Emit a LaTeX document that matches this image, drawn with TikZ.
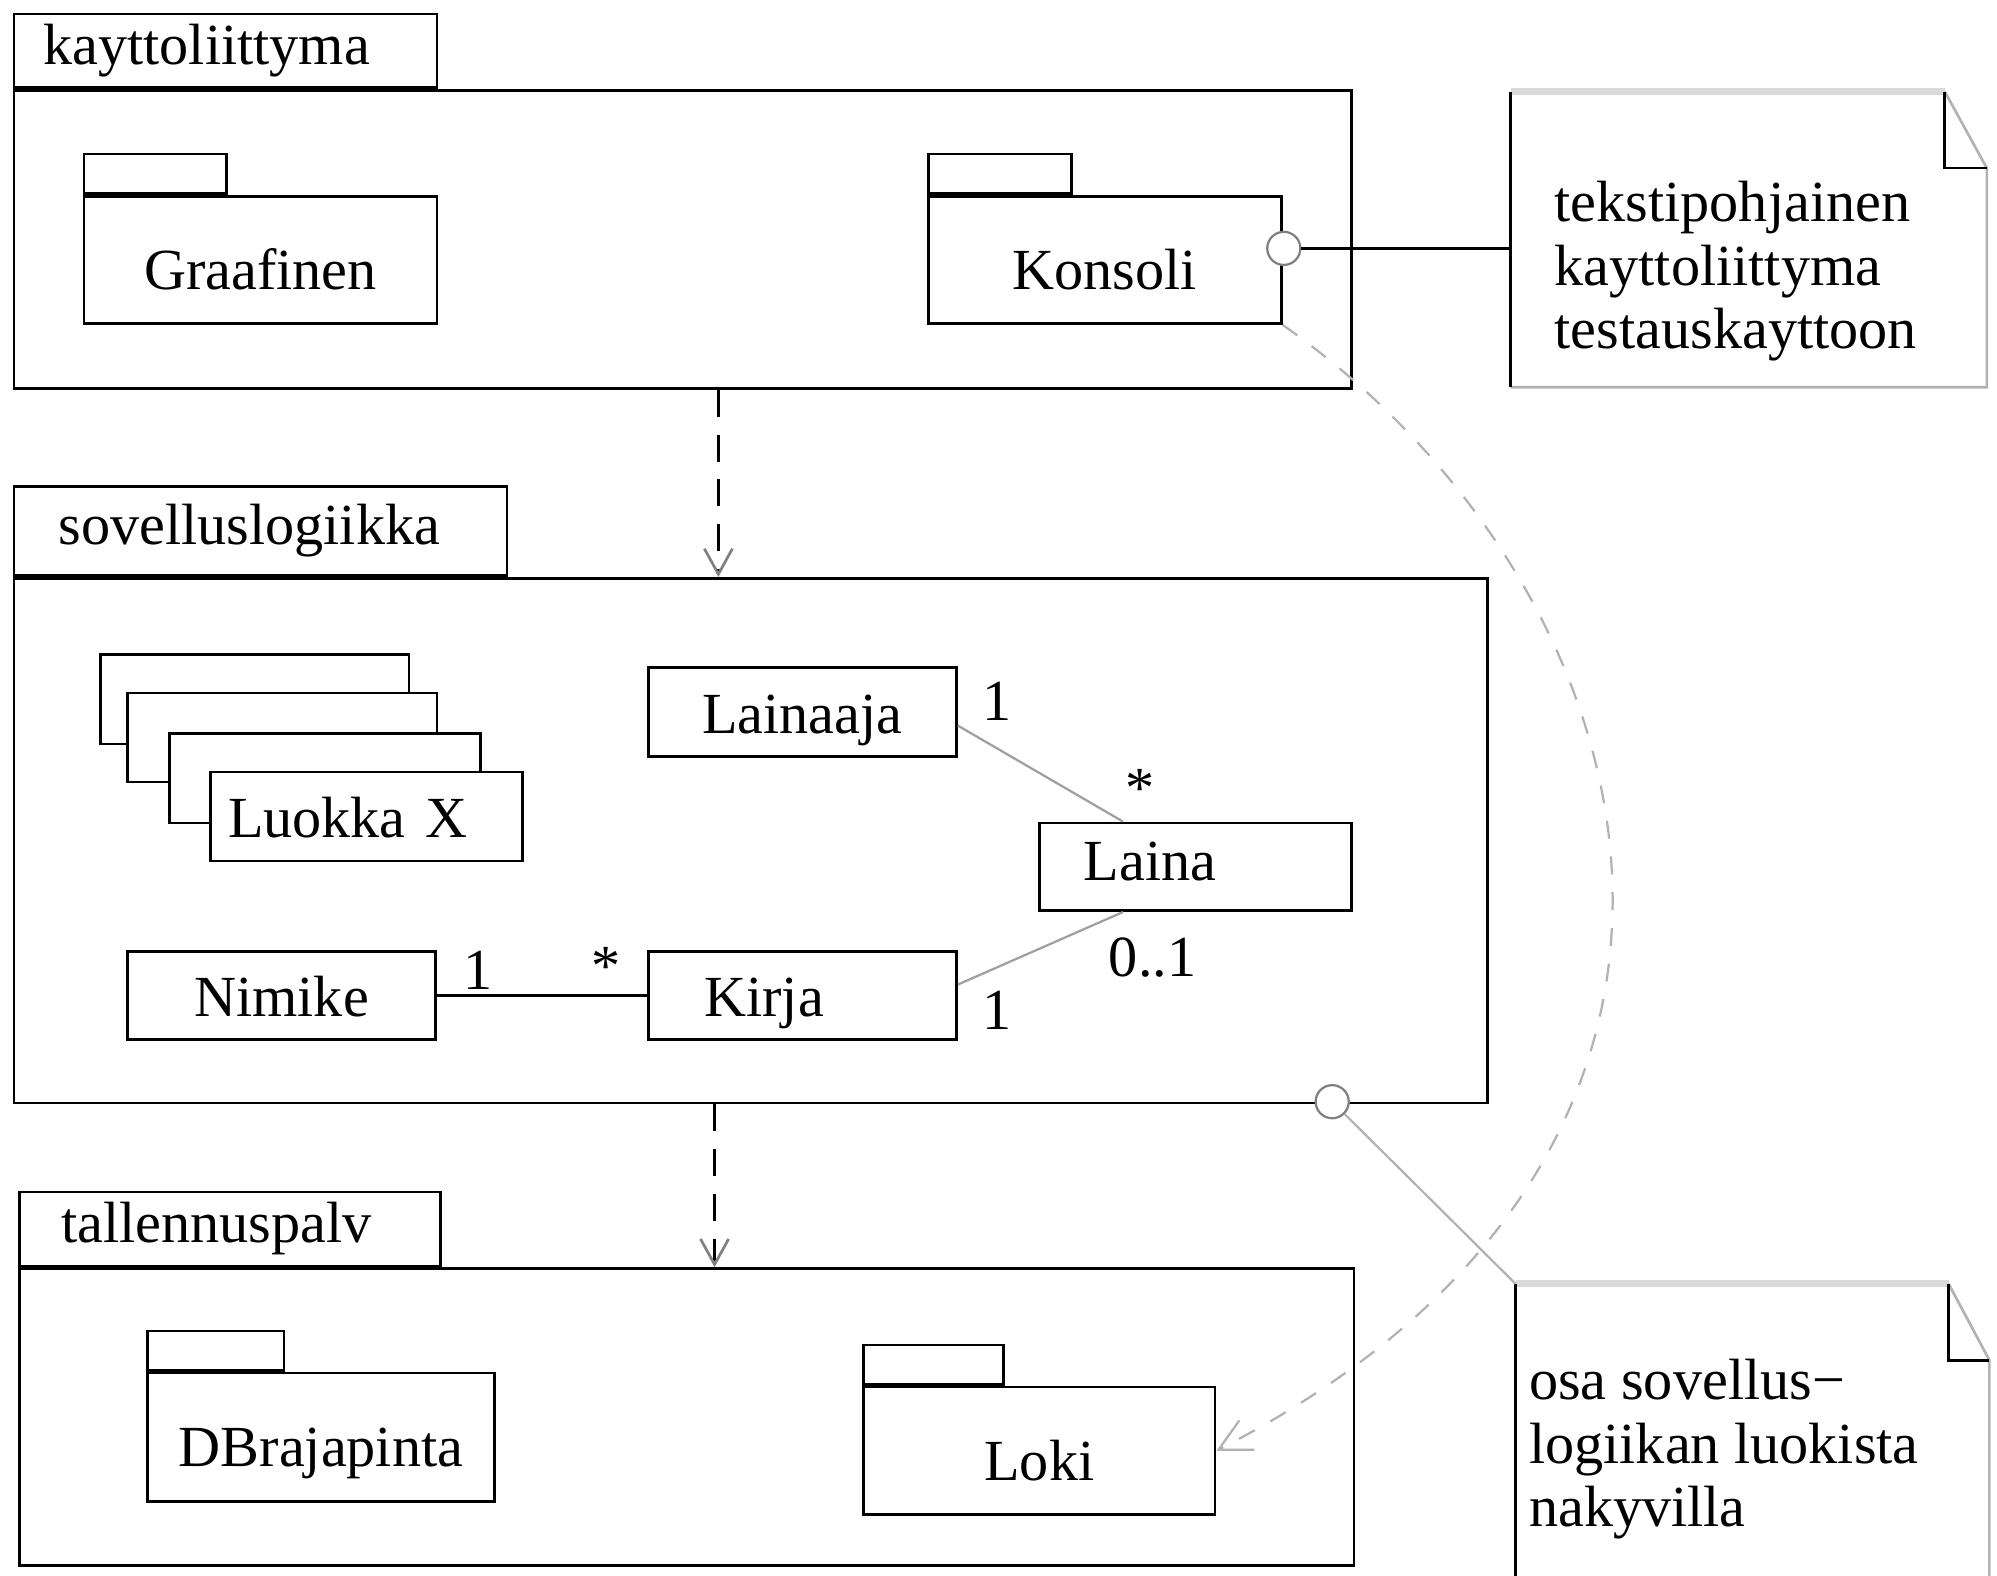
\documentclass[tikz,border=0pt]{standalone}
\usepackage{fontspec}
\setmainfont{Liberation Serif}
\usetikzlibrary{arrows.meta}

\begin{document}
\begin{tikzpicture}[
    font=\fontsize{13}{14.2}\selectfont,
    pkg/.style={draw, line width=0.6pt, inner sep=0pt},
    pkgtab/.style={draw, line width=0.6pt, align=left, anchor=south west, inner ysep=0pt},
    subpkg/.style={draw, line width=0.6pt, anchor=north west, minimum width=2.75cm, minimum height=1.00cm, text height=0.46cm, text depth=0cm},
    subtab/.style={draw, line width=0.6pt, anchor=south west, minimum width=1.10cm, minimum height=0.31cm, inner sep=0pt},
    cls/.style={draw, line width=0.6pt, fill=white, anchor=north west, minimum width=2.42cm, minimum height=0.70cm, inner ysep=0pt, text height=0.43cm, text depth=0.10cm},
    mult/.style={inner sep=1pt},
    assoc/.style={gray!75, line width=0.5pt},
    dep/.style={line width=0.6pt, dash pattern=on 6pt off 4pt, -{Straight Barb[length=2mm, width=2.2mm, color=gray]}},
    usage/.style={gray!60, line width=0.5pt, dash pattern=on 4pt off 4pt, -{Straight Barb[length=2.5mm, width=2.6mm]}},
    iface/.style={circle, draw=gray, line width=0.5pt, fill=white, minimum size=0.26cm, inner sep=0pt},
    notetop/.style={gray!30, line width=1.6pt},
    noteedge/.style={gray!60, line width=0.6pt},
    notefold/.style={black, line width=0.6pt}
  ]

  % Fix the frame of the picture
  \useasboundingbox (0,0) rectangle (15.68,-12.37);

  % Package kayttoliittyma with its two sub packages
  \node[pkg, anchor=north west, minimum width=10.50cm, minimum height=2.34cm] (ui) at (0.10,-0.70) {};
  \node[pkgtab, text width=2.86cm, inner xsep=0.23cm, minimum height=0.58cm] (uitab) at (ui.north west) {kayttoliittyma};

  \node[subpkg, minimum width=2.77cm] (graafinen) at (0.65,-1.53) {Graafinen};
  \node[subtab, minimum width=1.12cm] (graafinentab) at (graafinen.north west) {};
  \node[subpkg, minimum width=2.77cm] (konsoli) at (7.28,-1.53) {Konsoli};
  \node[subtab, minimum width=1.12cm] (konsolitab) at (konsoli.north west) {};

  % Package sovelluslogiikka
  \node[pkg, anchor=north west, minimum width=11.57cm, minimum height=4.12cm] (logic) at (0.10,-4.53) {};
  \node[pkgtab, text width=3.17cm, inner xsep=0.35cm, minimum height=0.70cm] (logictab) at (logic.north west) {sovelluslogiikka};

  % Stack of classes
  \node[cls] (luokka1) at (0.78,-5.13) {};
  \node[cls, minimum width=2.43cm] (luokka2) at (0.99,-5.43) {};
  \node[cls, minimum width=2.44cm] (luokka3) at (1.32,-5.75) {};
  \node[cls, minimum width=2.45cm, text width=2.17cm, inner xsep=0.14cm, align=left] (luokkax) at (1.64,-6.05) {Luokka X};

  % Classes and associations
  \node[cls] (lainaaja) at (5.08,-5.23) {Lainaaja};
  \node[cls, minimum width=2.45cm, minimum height=0.69cm, text width=1.75cm, inner xsep=0.35cm, align=left, text depth=0.22cm] (laina) at (8.15,-6.45) {Laina};
  \node[cls, minimum height=0.69cm] (nimike) at (0.99,-7.46) {Nimike};
  \node[cls, minimum height=0.69cm, text width=1.54cm, inner xsep=0.44cm, align=left] (kirja) at (5.08,-7.46) {Kirja};

  \draw[line width=0.6pt] (nimike.east) -- (kirja.west);
  \draw[assoc] (lainaaja.-5) -- (laina.148);
  \draw[assoc] (kirja.4) -- (laina.212);

  \node[mult] (m1) at (7.83,-5.51) {1};
  \node[mult] (m2) at (8.95,-6.19) {*};
  \node[mult] (m3) at (3.75,-7.62) {1};
  \node[mult] (m4) at (4.76,-7.59) {*};
  \node[mult] (m5) at (9.05,-7.52) {0..1};
  \node[mult] (m6) at (7.83,-7.93) {1};

  % Package tallennuspalv
  \node[pkg, anchor=north west, minimum width=10.48cm, minimum height=2.33cm] (store) at (0.14,-9.95) {};
  \node[pkgtab, text width=2.65cm, inner xsep=0.33cm, minimum height=0.58cm] (storetab) at (store.north west) {tallennuspalv};

  \node[subpkg, minimum width=2.72cm, minimum height=1.01cm] (db) at (1.15,-10.77) {DBrajapinta};
  \node[subtab, minimum width=1.07cm] (dbtab) at (db.north west) {};
  \node[subpkg, minimum width=2.76cm] (loki) at (6.77,-10.88) {Loki};
  \node[subtab] (lokitab) at (loki.north west) {};

  % Dependencies between the layers
  \draw[dep] ([xshift=0.28cm]ui.south) -- ([xshift=0.28cm]ui.south |- logic.north);
  \draw[dep] ([xshift=-0.285cm]logic.south) -- ([xshift=-0.285cm]logic.south |- store.north);

  % Konsoli uses Loki directly
  \draw[usage] (konsoli.south east) .. controls (13.0,-4.6) and (14.2,-9.0) .. (loki.east);

  % Note 1
  \coordinate (note1w) at (11.86,-1.95);
  \draw[notetop] (11.86,-0.72) -- (15.27,-0.72);
  \draw[noteedge] (15.27,-0.72) -- (15.60,-1.32) -- (15.60,-3.04) -- (11.86,-3.04);
  \draw[notefold] (11.86,-3.04) -- (11.86,-0.72);
  \draw[notefold] (15.27,-0.72) -- (15.27,-1.32) -- (15.60,-1.32);
  \node[anchor=west, align=left, inner sep=0pt] (note1) at (12.20,-2.13) {tekstipohjainen\\kayttoliittyma\\testauskayttoon};

  % Interface of Konsoli
  \node[iface] (konsoliif) at (10.08,-1.95) {};
  \draw[line width=0.6pt] (konsoliif) -- (note1w);

  % Note 2
  \coordinate (note2nw) at (11.90,-10.08);
  \draw[notetop] (11.90,-10.08) -- (15.30,-10.08);
  \draw[noteedge] (15.30,-10.08) -- (15.62,-10.68) -- (15.62,-12.45);
  \draw[notefold] (11.90,-12.45) -- (11.90,-10.08);
  \draw[notefold] (15.30,-10.08) -- (15.30,-10.68) -- (15.62,-10.68);
  \node[anchor=west, align=left, inner sep=0pt] (note2) at (12.00,-11.38) {osa sovellus−\\logiikan luokista\\nakyvilla};

  % Interface of sovelluslogiikka
  \node[iface] (logicif) at (10.46,-8.65) {};
  \draw[gray!60, line width=0.5pt] (logicif) -- (note2nw);

\end{tikzpicture}
\end{document}
